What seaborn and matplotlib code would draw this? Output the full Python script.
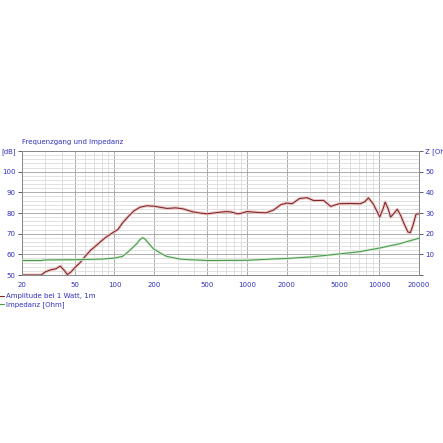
import numpy as np
import pandas as pd
import matplotlib
matplotlib.use('Agg')
import matplotlib.pyplot as plt
from matplotlib.ticker import FixedLocator, NullFormatter
import seaborn as sns

# ── Data ─────────────────────────────────────────────────────────────────────
AMP_FREQ = [20, 28, 30, 33, 36, 39, 42, 44, 47, 50, 55, 60, 66, 72, 78, 85, 92,
            100, 106, 116, 128, 140, 156, 175, 200, 220, 250, 290, 330, 390,
            440, 500, 560, 630, 700, 760, 850, 900, 1000, 1100, 1250, 1400,
            1600, 1800, 2000, 2200, 2500, 2850, 3200, 3800, 4300, 5000, 6000,
            7200, 7800, 8300, 9000, 9600, 10100, 10700, 11100, 11700, 12200,
            13000, 13700, 14500, 15500, 16500, 17200, 18000, 19000, 20000]
AMP_DB = [50, 50, 51.5, 52.5, 53, 54.3, 52, 50.2, 51.5, 53.5, 56, 59, 62, 64,
          66, 68, 69.5, 71, 72, 75.5, 78.5, 81, 82.8, 83.5, 83.3, 82.8, 82.2,
          82.5, 82, 80.6, 80, 79.6, 80, 80.4, 80.7, 80.5, 79.6, 79.8, 80.7,
          80.5, 80.2, 80.1, 81.5, 84, 84.8, 84.5, 87, 87.4, 86, 86.1, 83.2,
          84.5, 84.6, 84.5, 85.5, 87.3, 84.5, 81, 78, 82, 85.3, 82, 78, 80,
          81.8, 79, 74.5, 70.8, 70.5, 74, 79.5, 79.6]

IMP_FREQ = [20, 28, 30, 50, 80, 100, 115, 124, 135, 147, 155, 163, 170, 180,
            196, 221, 248, 262, 312, 372, 500, 1000, 1500, 2000, 3000, 5000,
            7000, 10000, 14000, 20000]
IMP_OHM = [7.0, 7.0, 7.3, 7.4, 7.7, 8.2, 9.0, 10.7, 12.8, 15.1, 17.0, 18.1,
           17.4, 15.5, 12.8, 10.7, 9.0, 8.7, 7.7, 7.4, 7.0, 7.1, 7.7, 8.0,
           8.7, 10.2, 11.2, 13.0, 15.0, 17.8]

X_TICKS = [20, 50, 100, 200, 500, 1000, 2000, 5000, 10000, 20000]
X_MINOR = [30, 40, 60, 70, 80, 90, 300, 400, 600, 700, 800, 900,
           3000, 4000, 6000, 7000, 8000, 9000]
DB_TICKS = [50, 60, 70, 80, 90, 100, 110]
DB_LABELS = ['50', '60', '70', '80', '90', '100', '[dB]']
OHM_TICKS = [0, 10, 20, 30, 40, 50, 60]
OHM_LABELS = ['', '10', '20', '30', '40', '50', 'Z [Ohm]']

# ── Style ────────────────────────────────────────────────────────────────────
BLUE = '#3030c0'
RED = '#7a2626'
PINK = '#efc4c4'
GREEN = '#4a9a4a'
GREEN_LT = '#d4ead4'
GRID_MAJ = '#a0a0a0'
GRID_MIN = '#dcdcdc'

sns.set_style('white')
plt.rcParams['font.family'] = ['DejaVu Sans']

amp = pd.DataFrame({'freq': AMP_FREQ, 'db': AMP_DB})
imp = pd.DataFrame({'freq': IMP_FREQ, 'ohm': IMP_OHM})

fig = plt.figure(figsize=(4.43, 4.43), dpi=100)
ax = fig.add_axes([22 / 443, 1 - 275 / 443, 397 / 443, 124 / 443])
ax.set_xscale('log')
ax.set_xlim(20, 20000)
ax.set_ylim(50, 110)

# grid
for f in X_MINOR:
    ax.axvline(f, color=GRID_MIN, lw=0.6, zorder=0)
for f in X_TICKS[1:-1]:
    ax.axvline(f, color=GRID_MAJ, lw=0.6, zorder=0)
for d in range(52, 110, 2):
    ax.axhline(d, color=GRID_MAJ if d % 10 == 0 else GRID_MIN, lw=0.6, zorder=0)

# amplitude curve (pink halo + dark red line)
sns.lineplot(data=amp, x='freq', y='db', ax=ax, color=PINK, lw=2.2,
             zorder=3, legend=False)
sns.lineplot(data=amp, x='freq', y='db', ax=ax, color=RED, lw=0.75,
             zorder=4, legend=False)

ax.xaxis.set_major_locator(FixedLocator(X_TICKS))
ax.xaxis.set_minor_locator(FixedLocator([]))
ax.set_xticklabels([str(t) for t in X_TICKS])
ax.set_yticks(DB_TICKS)
ax.set_yticklabels(DB_LABELS)
ax.set_xlabel('')
ax.set_ylabel('')
ax.tick_params(axis='both', labelsize=5, labelcolor=BLUE, colors='#404060',
               length=3, width=0.6, pad=1.5, direction='out')
ax.tick_params(axis='x', pad=2)
for s in ax.spines.values():
    s.set_color('#8a8a8a')
    s.set_linewidth(0.7)

# impedance on right axis
ax2 = ax.twinx()
ax2.set_ylim(0, 60)
sns.lineplot(data=imp, x='freq', y='ohm', ax=ax2, color=GREEN_LT, lw=1.8,
             zorder=3, legend=False)
sns.lineplot(data=imp, x='freq', y='ohm', ax=ax2, color=GREEN, lw=0.75,
             zorder=4, legend=False)
ax2.set_xlim(20, 20000)
ax2.set_yticks(OHM_TICKS)
ax2.set_yticklabels(OHM_LABELS)
ax2.set_ylabel('')
ax2.tick_params(axis='y', labelsize=5, labelcolor=BLUE, colors='#404060',
                length=3, width=0.6, pad=1.5)
for s in ax2.spines.values():
    s.set_color('#8a8a8a')
    s.set_linewidth(0.7)

fig.text(22 / 443, 1 - 142 / 443, 'Frequenzgang und Impedanz',
         fontsize=5, color=BLUE, va='center', ha='left')

# legend below the chart
handles = [plt.Line2D([], [], color=RED, lw=0.8),
           plt.Line2D([], [], color=GREEN, lw=0.8)]
fig.legend(handles, ['Amplitude bei 1 Watt, 1m', 'Impedanz [Ohm]'],
           loc='upper left', bbox_to_anchor=(-0.012, 1 - 290 / 443),
           frameon=False, fontsize=5, labelcolor=BLUE, handlelength=0.8,
           handletextpad=0.4, labelspacing=0.3, borderpad=0)

fig.savefig('out.png', dpi=100, facecolor='white')
